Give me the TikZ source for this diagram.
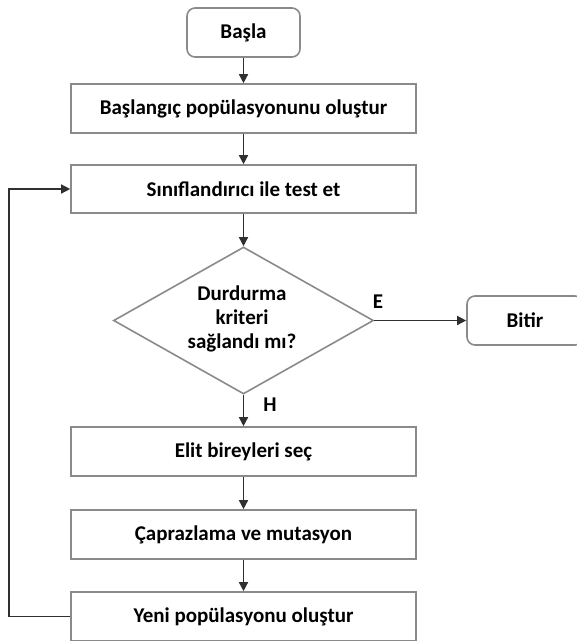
\documentclass[tikz,border=0pt]{standalone}
\usepackage{fontspec}
\setmainfont{Carlito}
\usetikzlibrary{shapes.geometric,arrows.meta}
\definecolor{boxline}{HTML}{8A8A8A}
\definecolor{flow}{HTML}{303030}
\tikzset{
  every node/.style={font=\bfseries\fontsize{21}{24}\selectfont, text=black},
  procbox/.style={draw=boxline, line width=1.6pt, rectangle, minimum width=345pt, minimum height=49pt, inner sep=0pt},
  termbox/.style={draw=boxline, line width=1.6pt, rectangle, rounded corners=8pt, minimum height=49pt, inner sep=0pt},
  decision/.style={draw=boxline, line width=1.6pt, diamond, minimum width=260pt, minimum height=147pt, inner sep=0pt},
  flowarrow/.style={draw=flow, line width=1.4pt, -{Triangle[length=9pt,width=9pt]}},
}
\begin{document}
\begin{tikzpicture}[x=1pt,y=-1pt]
\useasboundingbox (0,0) rectangle (577,641);
\clip (0,0) rectangle (577,641);
% process chain
\node[termbox, minimum width=113pt] (start) at (243.5,32.5) {Başla};
\node[procbox] (init) at (243.5,108.5) {Başlangıç popülasyonunu oluştur};
\node[procbox, minimum height=48pt] (test) at (243.5,189) {Sınıflandırıcı ile test et};
\node[decision] (dec) at (243.5,320.5) {};
\node[align=center] (dectext) at (242,319) {Durdurma\\kriteri\\sağlandı mı?};
\node[termbox, minimum width=116pt] (stop) at (525,320.5) {Bitir};
\node[procbox] (elit) at (243.5,451.5) {Elit bireyleri seç};
\node[procbox] (cross) at (243.5,534.5) {Çaprazlama ve mutasyon};
\node[procbox] (newpop) at (243.5,616.5) {Yeni popülasyonu oluştur};
% connectors
\draw[flowarrow] (start) -- (init);
\draw[flowarrow] (init) -- (test);
\draw[flowarrow] (test) -- (dec.north);
\draw[flowarrow] (dec.east) -- (stop.west);
\draw[flowarrow] (dec.south) -- (elit.north);
\draw[flowarrow] (elit) -- (cross);
\draw[flowarrow] (cross) -- (newpop);
\coordinate (loopbot) at (9,616.5);
\coordinate (looptop) at (9,189);
\draw[flowarrow] (newpop.west) -- (loopbot) -- (looptop) -- (test.west);
% branch labels
\node (yes) at (378,302) {E};
\node (no) at (270,405) {H};
\end{tikzpicture}
\end{document}
